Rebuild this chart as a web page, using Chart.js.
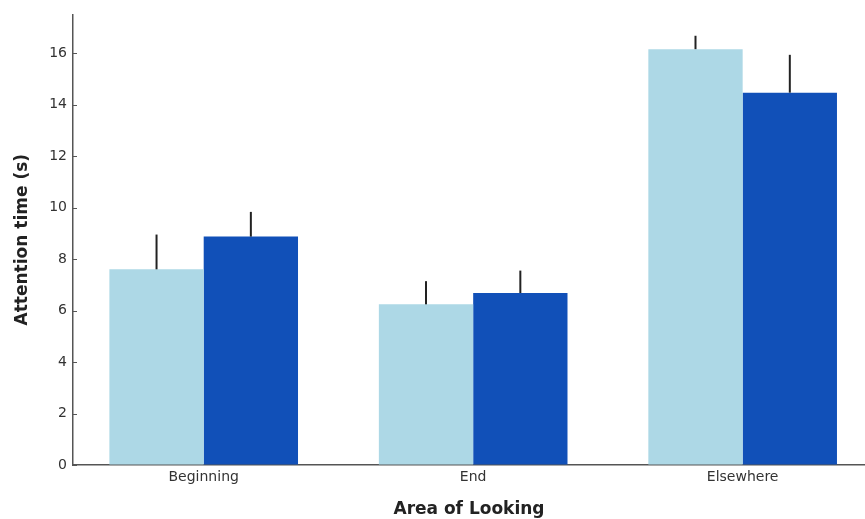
<!DOCTYPE html>
<html>
<head>
<meta charset="utf-8">
<script src="https://cdn.jsdelivr.net/npm/chart.js@4/dist/chart.umd.min.js"></script>
<style>
  html, body { margin: 0; padding: 0; background: #fff; overflow: hidden; }
  #wrap { width: 865px; height: 519px; }
</style>
</head>
<body>
<div id="wrap"><canvas id="chart" width="865" height="519"></canvas></div>
<script>
const categories = ["Beginning", "End", "Elsewhere"];
const firstValues = [7.6, 6.24, 16.15];
const firstErrors = [1.35, 0.9, 0.52];
const secondValues = [8.87, 6.68, 14.46];
const secondErrors = [0.96, 0.87, 1.47];
const yTicks = [0, 2, 4, 6, 8, 10, 12, 14, 16];

const toPoints = (vals) => vals.map((v, i) => ({ x: i, y: v }));

// error bars, upper half only, from the scales
const errorBars = {
  id: "errorBars",
  afterDatasetsDraw(chart) {
    const ctx = chart.ctx;
    const yScale = chart.scales.y;
    const errs = [firstErrors, secondErrors];
    ctx.save();
    ctx.strokeStyle = "#222";
    ctx.lineWidth = 2;
    chart.data.datasets.forEach((ds, d) => {
      const meta = chart.getDatasetMeta(d);
      meta.data.forEach((bar, i) => {
        const top = yScale.getPixelForValue(ds.data[i].y + errs[d][i]);
        ctx.beginPath();
        ctx.moveTo(bar.x, bar.y);
        ctx.lineTo(bar.x, top);
        ctx.stroke();
      });
    });
    ctx.restore();
  }
};

// small inward tick marks on the y axis
const innerTicks = {
  id: "innerTicks",
  afterDraw(chart) {
    const ctx = chart.ctx;
    const y = chart.scales.y;
    ctx.save();
    ctx.strokeStyle = "#555";
    ctx.lineWidth = 1;
    y.ticks.forEach((t) => {
      const py = Math.round(y.getPixelForValue(t.value)) + 0.5;
      ctx.beginPath();
      ctx.moveTo(y.right, py);
      ctx.lineTo(y.right + 4, py);
      ctx.stroke();
    });
    ctx.restore();
  }
};

new Chart(document.getElementById("chart"), {
  type: "bar",
  data: {
    datasets: [
      {
        data: toPoints(firstValues),
        backgroundColor: "#ADD8E6",
        borderWidth: 0
      },
      {
        data: toPoints(secondValues),
        backgroundColor: "#1150B8",
        borderWidth: 0
      }
    ]
  },
  options: {
    responsive: false,
    animation: false,
    layout: { padding: { top: 14, left: 0, right: 0, bottom: 0 } },
    plugins: {
      legend: { display: false },
      tooltip: { enabled: false }
    },
    datasets: {
      bar: { categoryPercentage: 0.7, barPercentage: 1.0 }
    },
    scales: {
      x: {
        type: "linear",
        min: -0.485,
        max: 2.454,
        offset: false,
        afterBuildTicks: (scale) => {
          scale.ticks = categories.map((c, i) => ({ value: i }));
        },
        afterFit: (scale) => { scale.height = 54; },
        grid: { display: true, drawOnChartArea: false, drawTicks: false },
        border: { display: true, color: "#555", width: 1.5 },
        ticks: {
          padding: 4,
          color: "#333",
          font: { family: "DejaVu Sans", size: 14 },
          callback: (v) => categories[v] ?? ""
        },
        title: {
          display: true,
          text: "Area of Looking",
          color: "#222",
          font: { family: "DejaVu Sans", size: 17, weight: "bold" },
          padding: { top: 0, bottom: -1 }
        }
      },
      y: {
        min: 0,
        max: 17.5,
        afterBuildTicks: (scale) => {
          scale.ticks = yTicks.map((v) => ({ value: v }));
        },
        afterFit: (scale) => { scale.width = 73; },
        grid: { display: true, drawOnChartArea: false, drawTicks: false },
        border: { display: true, color: "#555", width: 1.5 },
        ticks: {
          padding: 6,
          color: "#333",
          font: { family: "DejaVu Sans", size: 14 }
        },
        title: {
          display: true,
          text: "Attention time (s)",
          color: "#222",
          font: { family: "DejaVu Sans", size: 17, weight: "bold" },
          padding: { top: 12, bottom: 0 }
        }
      }
    }
  },
  plugins: [errorBars, innerTicks]
});
</script>
</body>
</html>
